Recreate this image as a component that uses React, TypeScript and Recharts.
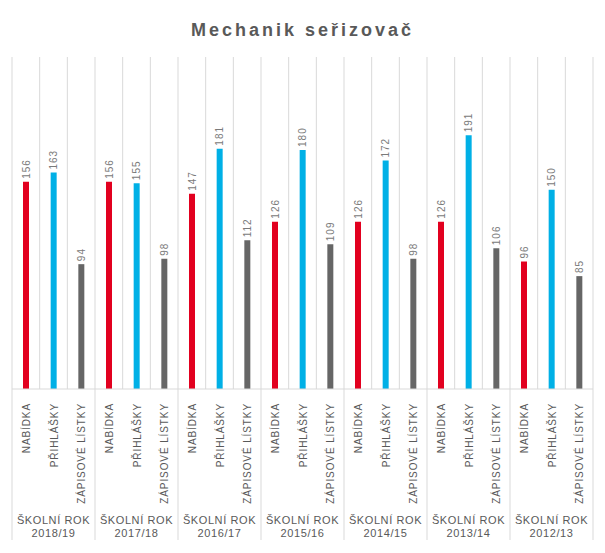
import { BarChart, Bar, XAxis, YAxis, CartesianGrid, Cell, LabelList } from "recharts";

const years = ["2018/19", "2017/18", "2016/17", "2015/16", "2014/15", "2013/14", "2012/13"];
const seriesNames = ["NABÍDKA", "PŘIHLÁŠKY", "ZÁPISOVÉ LÍSTKY"];
const seriesColors = ["#e2001f", "#00b0e6", "#666666"];

const nabidka = [156, 156, 147, 126, 126, 126, 96];
const prihlasky = [163, 155, 181, 180, 172, 191, 150];
const zapisove = [94, 98, 112, 109, 98, 106, 85];

const W = 605;
const H = 553;
const M = { top: 57, right: 12, left: 12, bottom: 0 };
const AXIS_H = 164;
const COUNT = years.length * 3;
const BAND = (W - M.left - M.right) / COUNT;

const data = years.flatMap((year, g) =>
    [nabidka[g], prihlasky[g], zapisove[g]].map((value, s) => ({
        id: `${year}-${s}`,
        year,
        series: s,
        value,
    }))
);

const FONT = "'Liberation Sans', Arial, sans-serif";

function CategoryTick(props: any) {
    const { x, y, index } = props;
    const s = index % 3;
    const g = Math.floor(index / 3);
    return (
        <g>
            <text
                transform={`translate(${x + 4},${y + 14}) rotate(-90)`}
                textAnchor="end"
                fontSize={10}
                letterSpacing={0.9}
                fill="#595959"
                fontFamily={FONT}
            >
                {seriesNames[s]}
            </text>
            {s === 0 && (
                <line x1={x - BAND / 2} x2={x - BAND / 2} y1={y} y2={y + 151} stroke="#d9d9d9" />
            )}
            {index === COUNT - 1 && (
                <line x1={x + BAND / 2} x2={x + BAND / 2} y1={y} y2={y + 151} stroke="#d9d9d9" />
            )}
            {s === 1 && (
                <text textAnchor="middle" fontSize={11} letterSpacing={0.6} fill="#595959" fontFamily={FONT}>
                    <tspan x={x} y={y + 135}>ŠKOLNÍ ROK</tspan>
                    <tspan x={x} y={y + 148}>{years[g]}</tspan>
                </text>
            )}
        </g>
    );
}

function ValueLabel(props: any) {
    const { x, y, width, value } = props;
    const cx = x + width / 2;
    return (
        <text
            transform={`translate(${cx + 3.5},${y - 3}) rotate(-90)`}
            textAnchor="start"
            fontSize={10}
            letterSpacing={1}
            fill="#7a7a7a"
            fontFamily={FONT}
        >
            {value}
        </text>
    );
}

export default function App() {
    return (
        <div style={{ position: "absolute", left: 0, top: 0, width: W, height: H, background: "#fff" }}>
            <div
                style={{
                    position: "absolute",
                    left: 0,
                    top: 20,
                    width: W,
                    textAlign: "center",
                    fontFamily: FONT,
                    fontWeight: "bold",
                    fontSize: 18,
                    letterSpacing: 3,
                    color: "#595959",
                }}
            >
                Mechanik seřizovač
            </div>
            <BarChart width={W} height={H} data={data} margin={M}>
                <CartesianGrid
                    horizontal={false}
                    stroke="#d9d9d9"
                    verticalCoordinatesGenerator={({ offset }: any) =>
                        Array.from({ length: COUNT + 1 }, (_, i) => offset.left + (i * offset.width) / COUNT)
                    }
                />
                <XAxis
                    dataKey="id"
                    height={AXIS_H}
                    interval={0}
                    tickLine={false}
                    tickSize={0}
                    tickMargin={0}
                    axisLine={{ stroke: "#d9d9d9" }}
                    tick={<CategoryTick />}
                />
                <YAxis hide domain={[0, 250]} />
                <Bar dataKey="value" barSize={6} isAnimationActive={false}>
                    {data.map((d) => (
                        <Cell key={d.id} fill={seriesColors[d.series]} />
                    ))}
                    <LabelList dataKey="value" content={<ValueLabel />} />
                </Bar>
            </BarChart>
        </div>
    );
}
